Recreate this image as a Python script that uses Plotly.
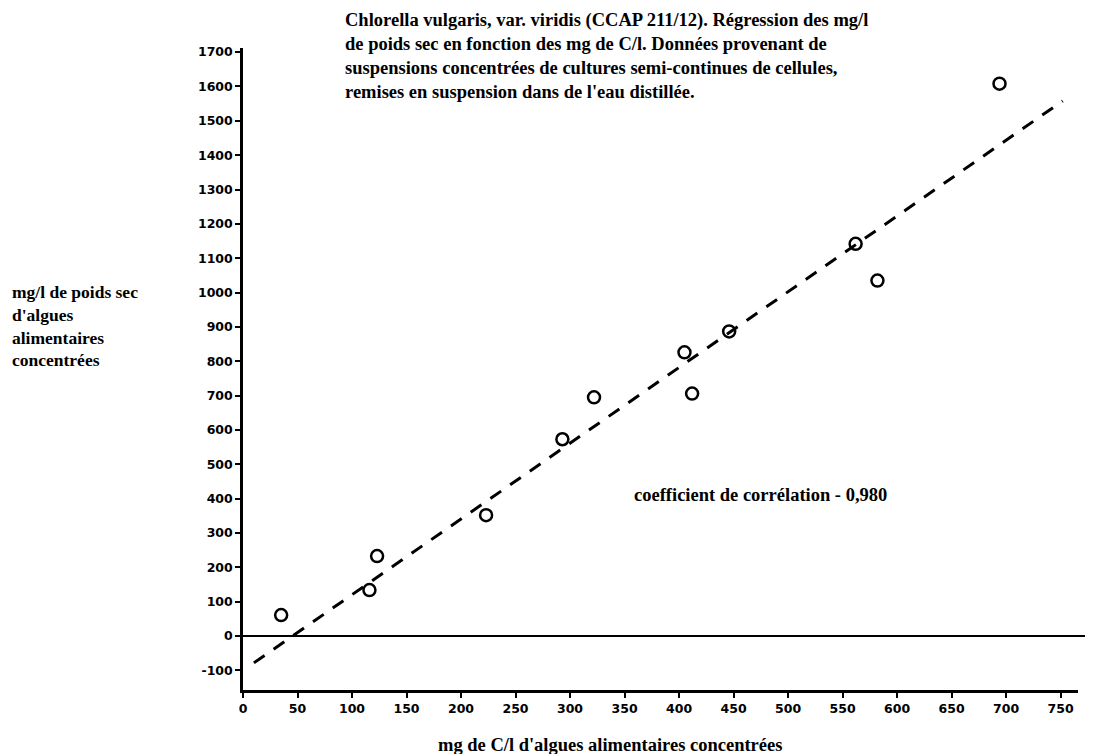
import plotly.graph_objects as go

# Data
x_vals = [35, 116, 123, 223, 293, 322, 405, 412, 446, 562, 582, 694]
y_vals = [61, 134, 233, 352, 573, 695, 826, 706, 887, 1142, 1035, 1608]
line_x = [10, 752]
line_y = [-78, 1558]
x_ticks = [0, 50, 100, 150, 200, 250, 300, 350, 400, 450, 500, 550, 600, 650, 700, 750]
y_ticks = [-100, 0, 100, 200, 300, 400, 500, 600, 700, 800, 900, 1000, 1100, 1200,
           1300, 1400, 1500, 1600, 1700]

title_text = ("Chlorella vulgaris, var. viridis (CCAP 211/12). Régression des mg/l<br>"
              "de poids sec en fonction des mg de C/l. Données provenant de<br>"
              "suspensions concentrées de cultures semi-continues de cellules,<br>"
              "remises en suspension dans de l'eau distillée.")
y_title = "mg/l de poids sec<br>d'algues<br>alimentaires<br>concentrées"
x_title = "mg de C/l d'algues alimentaires concentrées"
corr_text = "coefficient de corrélation - 0,980"

serif = dict(family="Liberation Serif", size=18.5, color="black", weight="bold")
serif_y = dict(family="Liberation Serif", size=17.5, color="black", weight="bold")
tickf = dict(family="DejaVu Sans", size=12.5, color="black", weight="bold")

PW, PH = 835, 642  # plot area size in px

fig = go.Figure()
fig.add_trace(go.Scatter(x=line_x, y=line_y, mode="lines",
                         line=dict(color="black", width=3, dash="13px,11px"),
                         showlegend=False, hoverinfo="skip"))
fig.add_trace(go.Scatter(x=x_vals, y=y_vals, mode="markers",
                         marker=dict(symbol="circle-open", size=12, color="black",
                                     line=dict(width=2.5, color="black")),
                         showlegend=False))

# zero line
fig.add_shape(type="line", xref="paper", yref="y", x0=0, x1=1.015, y0=0, y1=0,
              line=dict(color="black", width=2))

fig.add_annotation(text=title_text, xref="paper", yref="paper", x=(343-243)/PW, y=1.0,
                   yshift=40, xanchor="left", yanchor="top", align="left",
                   showarrow=False, font=serif)
fig.add_annotation(text=y_title, xref="paper", yref="paper", x=-(243-10)/PW,
                   y=(690-280)/PH, xanchor="left", yanchor="top", align="left",
                   showarrow=False, font=serif_y)
fig.add_annotation(text=x_title, xref="paper", yref="paper", x=(610-243)/PW,
                   y=-(733-690)/PH, xanchor="center", yanchor="top",
                   showarrow=False, font=serif)
fig.add_annotation(text=corr_text, x=357, y=412, xanchor="left", yanchor="middle",
                   showarrow=False, font=serif)

fig.update_xaxes(range=[0, 766], tickvals=x_ticks, ticktext=[str(v) for v in x_ticks],
                 showline=True, linecolor="black", linewidth=2.5, showgrid=False,
                 zeroline=False, ticks="outside", ticklen=5, tickwidth=2,
                 tickcolor="black", tickfont=tickf)
fig.update_yaxes(range=[-157, 1712], tickvals=y_ticks, ticktext=[str(v) for v in y_ticks],
                 showline=True, linecolor="black", linewidth=2.5, showgrid=False,
                 zeroline=False, ticks="outside", ticklen=5, tickwidth=2,
                 tickcolor="black", tickfont=tickf)

# page body adds an 8px margin, so the figure is 8px smaller and margins shifted
fig.update_layout(width=1085, height=746, plot_bgcolor="white", paper_bgcolor="white",
                  margin=dict(l=235, r=15, t=40, b=64), showlegend=False)

fig.write_html("out.html")
